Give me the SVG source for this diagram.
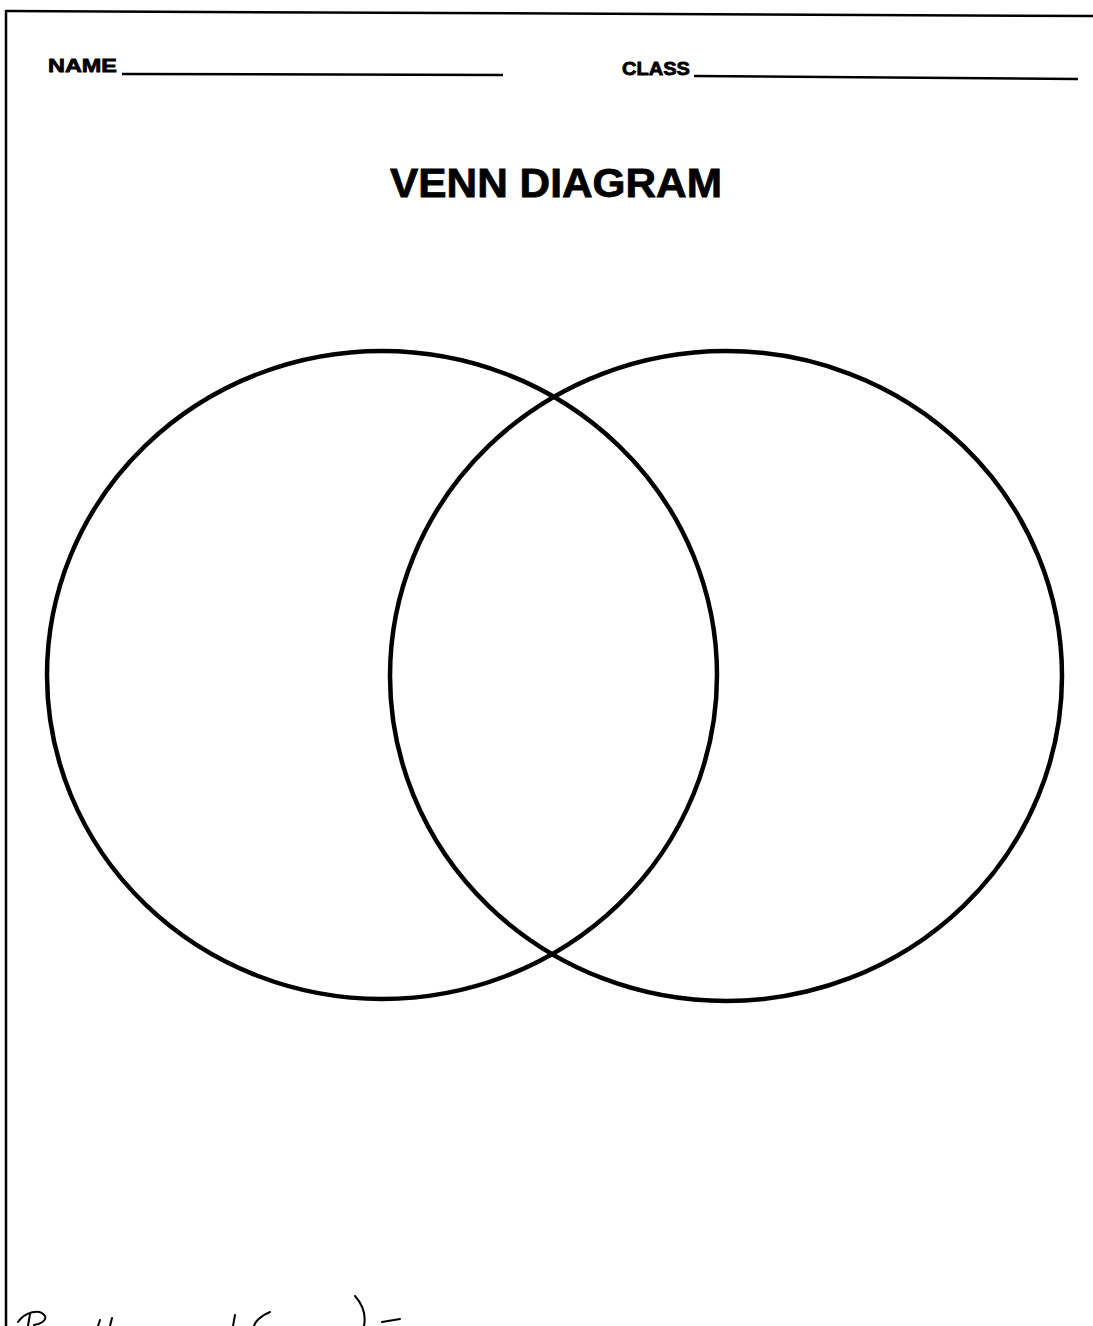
<svg xmlns="http://www.w3.org/2000/svg" width="1093" height="1326" viewBox="0 0 1093 1326">
<style>
.ln{stroke:#000;fill:none;stroke-width:2.5}
.circ{stroke:#000;fill:none;stroke-width:4.5}
.lbl{font-family:"Liberation Sans",Arial,sans-serif;font-weight:bold;fill:#000;stroke:#000;stroke-width:0.8}
.hw{stroke:#000;fill:none;stroke-width:2;stroke-linecap:round}
</style>
<rect width="1093" height="1326" fill="#fff"/>
<g id="frame">
<line class="ln" x1="6" y1="11" x2="1093" y2="16"/>
<line class="ln" x1="6" y1="10" x2="6" y2="1326"/>
</g>
<g id="header">
<text class="lbl" x="48" y="72" font-size="19" textLength="69" lengthAdjust="spacingAndGlyphs">NAME</text>
<line class="ln" x1="122" y1="74" x2="503" y2="75"/>
<text class="lbl" x="622" y="75" font-size="19" textLength="68" lengthAdjust="spacingAndGlyphs">CLASS</text>
<line class="ln" x1="694" y1="76" x2="1078" y2="79"/>
</g>
<g id="title">
<text class="lbl" x="390" y="197" font-size="41" stroke-width="1.2" textLength="332" lengthAdjust="spacingAndGlyphs">VENN DIAGRAM</text>
</g>
<g id="circle-left">
<ellipse class="circ" cx="382" cy="675" rx="335" ry="324"/>
</g>
<g id="circle-right">
<ellipse class="circ" cx="726" cy="676" rx="336" ry="325"/>
</g>
<g id="connectors"></g>
<g id="handwriting">
<path class="hw" d="M18 1322 C25 1312 40 1308 45 1316 C47 1321 40 1324 34 1325"/>
<path class="hw" d="M30 1314 L28 1326"/>
<path class="hw" d="M100 1320 L98 1326"/>
<path class="hw" d="M112 1318 L110 1326"/>
<path class="hw" d="M235 1315 L233 1326"/>
<path class="hw" d="M270 1312 C260 1316 255 1322 254 1326"/>
<path class="hw" d="M355 1296 C363 1305 366 1316 364 1326"/>
<path class="hw" d="M382 1322 L400 1319"/>
</g>
</svg>
